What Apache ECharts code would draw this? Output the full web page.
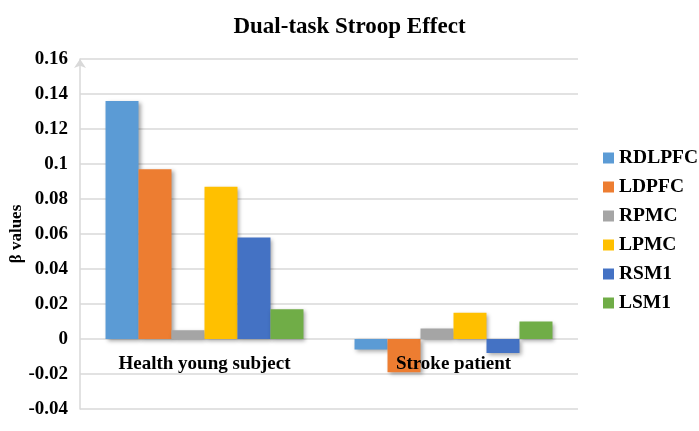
<!DOCTYPE html>
<html><head><meta charset="utf-8">
<script src="https://cdn.jsdelivr.net/npm/echarts@6/dist/echarts.min.js"></script>
<style>html,body{margin:0;padding:0;background:#fff}#c{width:699px;height:431px}</style>
</head><body><div id="c"></div>
<script>
const categories = ['Health young subject', 'Stroke patient'];
const seriesNames = ['RDLPFC', 'LDPFC', 'RPMC', 'LPMC', 'RSM1', 'LSM1'];
const RDLPFC = [0.136, -0.006];
const LDPFC = [0.097, -0.019];
const RPMC = [0.005, 0.006];
const LPMC = [0.087, 0.015];
const RSM1 = [0.058, -0.008];
const LSM1 = [0.017, 0.010];
const yTicks = [-0.04, -0.02, 0, 0.02, 0.04, 0.06, 0.08, 0.1, 0.12, 0.14, 0.16];
const yAxisTitle = 'β values';
const colors = ['#5B9BD5', '#ED7D31', '#A5A5A5', '#FFC000', '#4472C4', '#70AD47'];
const values = [RDLPFC, LDPFC, RPMC, LPMC, RSM1, LSM1];
const font = '"Liberation Serif", "Times New Roman", serif';

const chart = echarts.init(document.getElementById('c'));
chart.setOption({
  animation: false,
  color: colors,
  title: {
    text: 'Dual-task Stroop Effect', left: 'center', top: 11,
    textStyle: { fontFamily: font, fontWeight: 'bold', fontSize: 23, color: '#000' }
  },
  legend: {
    orient: 'vertical', left: 598, top: 143,
    itemWidth: 11, itemHeight: 11, itemGap: 9,
    icon: 'rect',
    data: seriesNames,
    textStyle: { fontFamily: font, fontWeight: 'bold', fontSize: 19.5, color: '#000', lineHeight: 20 }
  },
  graphic: [{
    type: 'text', x: 17, y: 234, rotation: Math.PI / 2,
    style: { text: yAxisTitle, align: 'center', verticalAlign: 'middle', font: 'bold 17px ' + font, fill: '#000' }
  }],
  grid: { left: 80, right: 121, top: 59, bottom: 22, containLabel: false, outerBoundsMode: 'none' },
  xAxis: {
    type: 'category', data: categories, z: 10,
    position: 'bottom', offset: -70,
    axisLine: { show: false, onZero: false },
    axisTick: { show: false },
    axisLabel: { margin: 16, fontFamily: font, fontWeight: 'bold', fontSize: 19, color: '#000' }
  },
  yAxis: {
    type: 'value', min: yTicks[0], max: yTicks[yTicks.length - 1], interval: 0.02,
    axisLine: { show: true, symbol: ['none', 'arrow'], symbolSize: [9, 9], lineStyle: { color: '#d9d9d9', width: 1.5 } },
    axisTick: { show: false },
    splitLine: { lineStyle: { color: '#d9d9d9', width: 1.5 } },
    axisLabel: {
      margin: 12, fontFamily: font, fontWeight: 'bold', fontSize: 19, color: '#000',
      formatter: v => { const r = Math.round(v * 100) / 100; return String(r); }
    }
  },
  series: seriesNames.map((n, i) => ({
    name: n, type: 'bar', data: values[i],
    barGap: '0%', barCategoryGap: '20.5%',
    itemStyle: { color: colors[i], shadowColor: 'rgba(0,0,0,0.35)', shadowBlur: 4, shadowOffsetX: 2, shadowOffsetY: 2 }
  }))
});
</script></body></html>
